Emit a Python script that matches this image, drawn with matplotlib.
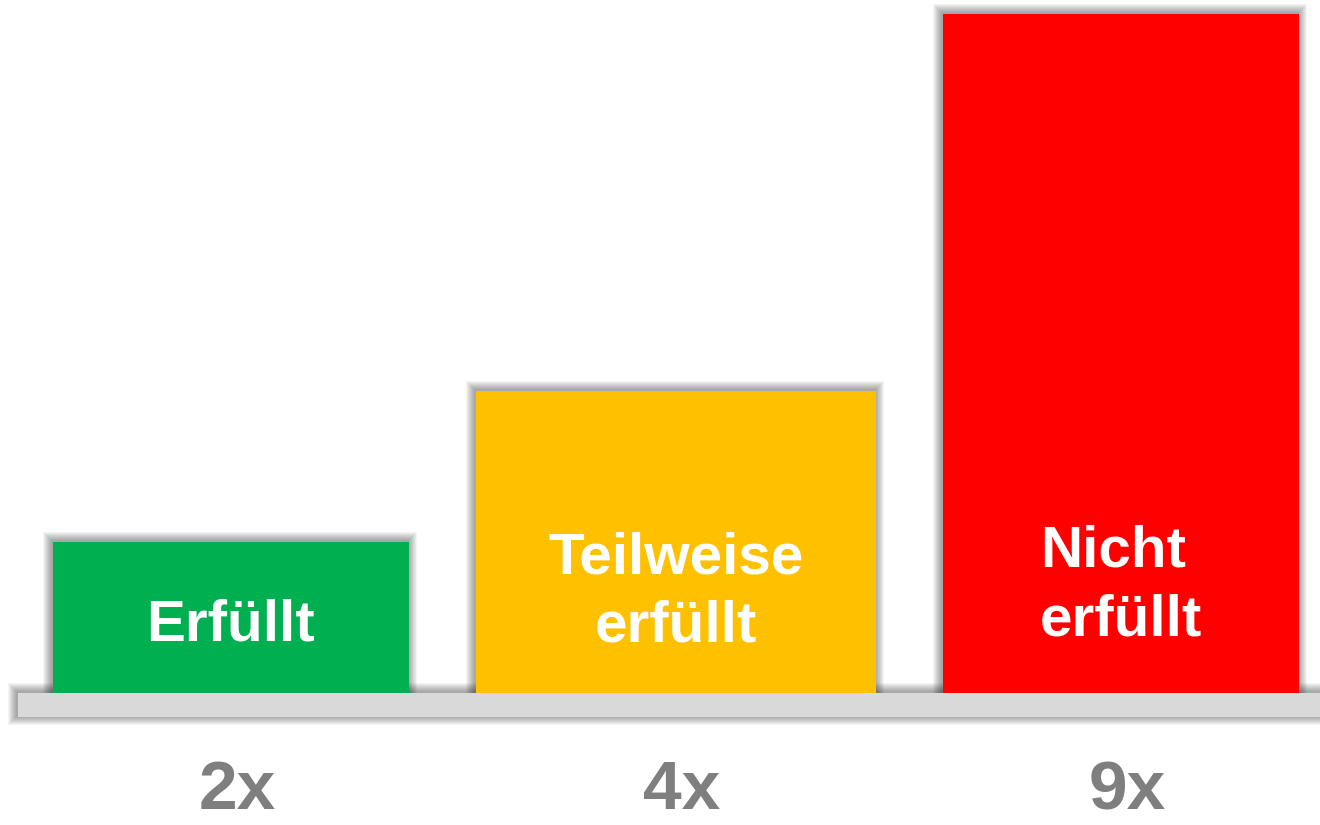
import matplotlib
matplotlib.use("Agg")
import matplotlib.pyplot as plt
from matplotlib.patches import Rectangle
from matplotlib import transforms as mtransforms

# ---- data ----
categories = ["Erfüllt", "Teilweise\nerfüllt", "Nicht\nerfüllt"]
counts = [2, 4, 9]
count_labels = ["2x", "4x", "9x"]

# ---- styles ----
colors = ["#00B050", "#FFC000", "#FF0000"]
bar_widths = [0.8, 0.9, 0.8]
label_align = ["center", "center", "left"]
label_y = [0.705, 0.683, 0.772]      # baseline of last line inside bar (data units)
x_pos = list(range(len(categories)))

W, H, DPI = 1320, 825, 100
fig = plt.figure(figsize=(W / DPI, H / DPI), dpi=DPI)
ax = fig.add_axes([0, 0, 1, 1])
XL = (-0.519, 2.447)
YL = (-1.744, 9.183)
ax.set_xlim(*XL)
ax.set_ylim(*YL)
ax.axis("off")
sx = (XL[1] - XL[0]) / W
sy = (YL[1] - YL[0]) / H


def soft_shadow(x0, y0, w, h, z, n=9, a=0.045):
    for k in range(1, n + 1):
        ax.add_patch(Rectangle((x0 - k * sx - sx, y0 - k * sy + sy),
                               w + 2 * k * sx, h + 2 * k * sy,
                               facecolor="black", alpha=a, lw=0, zorder=z))


# baseline (floor)
base_x0, base_x1 = -0.479, 2.7
base_h = 23.4 * sy
soft_shadow(base_x0, -base_h, base_x1 - base_x0, base_h, z=1)

bars = ax.bar(x_pos, counts, width=bar_widths, color=colors, zorder=4, linewidth=0)
for p in bars:
    soft_shadow(p.get_x(), p.get_y(), p.get_width(), p.get_height(), z=2)

ax.add_patch(Rectangle((base_x0, -base_h), base_x1 - base_x0, base_h,
                       facecolor="#D9D9D9", lw=0, zorder=3))

for x, lab, al, ly in zip(x_pos, categories, label_align, label_y):
    ax.text(x, ly, lab, ha="center", va="baseline", multialignment=al,
            color="white", fontsize=42, fontweight="bold",
            family=["Liberation Sans", "DejaVu Sans"], linespacing=1.35, zorder=5)

off = mtransforms.offset_copy(ax.transData, fig=fig, x=6, y=0, units="dots")
for x, cl in zip(x_pos, count_labels):
    ax.text(x, -(809 - 693.3) * sy, cl, transform=off, ha="center", va="baseline",
            color="#7F7F7F", fontsize=50, fontweight="bold",
            family=["Liberation Sans", "DejaVu Sans"], zorder=5)

fig.savefig("out.png", dpi=DPI, facecolor="white")
